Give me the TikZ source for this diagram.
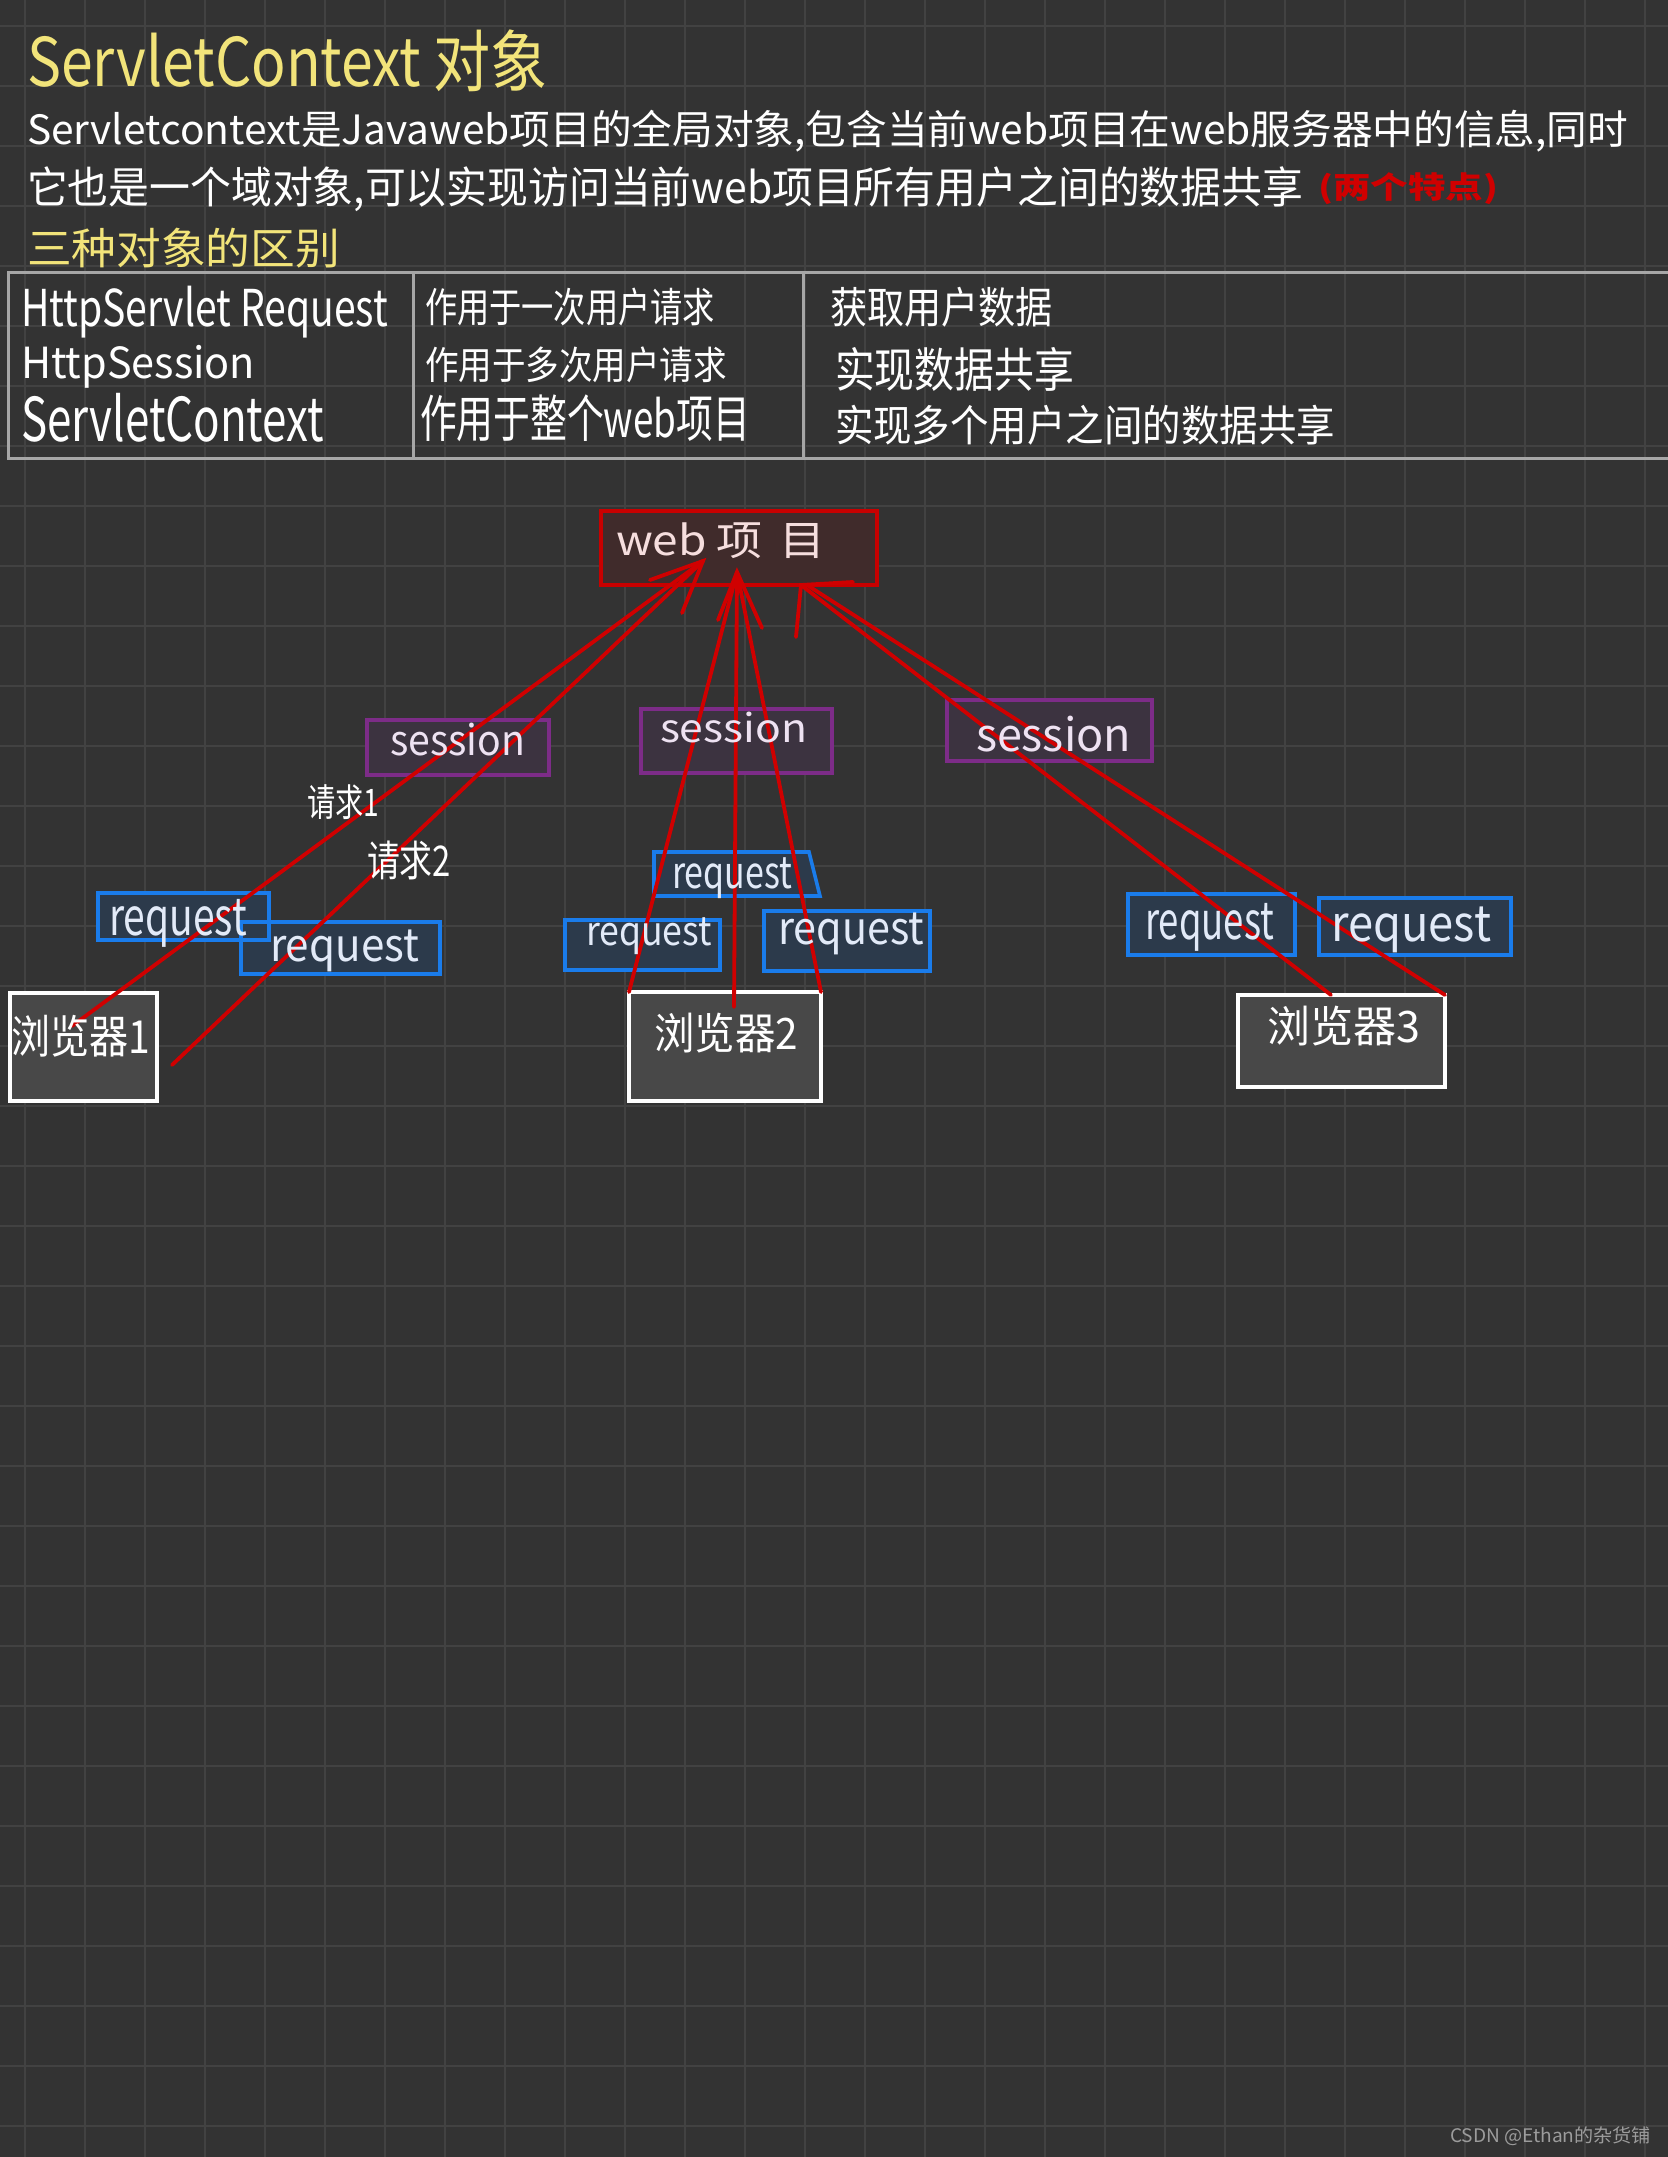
\documentclass[tikz,border=0pt]{standalone}
\usepackage{fontspec}
\usepackage{graphicx}
\newfontfamily\cjk{Noto Sans CJK SC}
\newdimen\pxu \pxu=0.5pt
\newcommand\fitt[3]{\resizebox*{#1\pxu}{#2\pxu}{#3}}
\definecolor{bgc}{HTML}{333333}
\definecolor{gridc}{HTML}{424242}
\definecolor{tabc}{HTML}{A6A6A6}
\definecolor{yelc}{HTML}{F2E47A}
\definecolor{webred}{HTML}{C80000}
\definecolor{webfill}{HTML}{402B2B}
\definecolor{webtxt}{HTML}{F6DEDE}
\definecolor{purc}{HTML}{7D2C88}
\definecolor{purfill}{HTML}{3C3340}
\definecolor{sestxt}{HTML}{EEE2F2}
\definecolor{bluc}{HTML}{1A7CEB}
\definecolor{blufill}{HTML}{2C3A4B}
\definecolor{reqtxt}{HTML}{E2EAF8}
\definecolor{brwfill}{HTML}{484848}
\definecolor{linered}{HTML}{D00000}
\definecolor{notered}{HTML}{D00000}
\definecolor{wmc}{HTML}{9C9C9C}
\begin{document}
\begin{tikzpicture}[x=0.5pt,y=-0.5pt,
  every node/.style={inner sep=0pt,outer sep=0pt,font=\cjk},
  txt/.style={anchor=north west,text=white},
  gridline/.style={draw=gridc,line width=1.2pt},
  tabline/.style={draw=tabc,line width=1.5pt},
  webbox/.style={draw=webred,fill=webfill,line width=2pt},
  sesbox/.style={draw=purc,fill=purfill,line width=1.6pt},
  reqbox/.style={draw=bluc,fill=blufill,line width=1.8pt},
  brwbox/.style={draw=white,fill=brwfill,line width=2pt},
  redline/.style={draw=linered,line width=1.9pt,line cap=round}]
\newcommand\boxnode[6]{\node[#2,anchor=north west,minimum width={(#5-#3)*0.5pt},minimum height={(#6-#4)*0.5pt}] (#1) at (#3,#4) {};}
\useasboundingbox (0,0) rectangle (1668,2157);
\fill[bgc] (0,0) rectangle (1668,2157);
\foreach \i in {0,...,27} \draw[gridline] ({25+60*\i},0) -- ({25+60*\i},2157);
\foreach \j in {0,...,35} \draw[gridline] (0,{26+60*\j}) -- (1668,{26+60*\j});

% heading texts
\node[txt,text=yelc] (title) at (27,30) {\fitt{521}{62}{ServletContext 对象}};
\node[txt] (line1) at (27,110) {\fitt{1601}{42}{Servletcontext是Javaweb项目的全局对象,包含当前web项目在web服务器中的信息,同时}};
\node[txt] (line2) at (27,167) {\fitt{1276}{45}{它也是一个域对象,可以实现访问当前web项目所有用户之间的数据共享}};
\node[txt,text=notered] (note) at (1318,173) {\fitt{180}{32}{\bfseries (两个特点)}};
\node[txt,text=yelc] (sub) at (27,228) {\fitt{313}{40}{三种对象的区别}};

% table
\draw[tabline] (1668,272) -- (8,272) -- (8,458) -- (1668,458);
\draw[tabline] (413,272) -- (413,458);
\draw[tabline] (803,272) -- (803,458);
\node[txt] (c11) at (21,286) {\fitt{367}{52}{HttpServlet Request}};
\node[txt] (c21) at (21,345) {\fitt{234}{43}{HttpSession}};
\node[txt] (c31) at (21,393) {\fitt{303}{49}{ServletContext}};
\node[txt] (c12) at (425,288) {\fitt{290}{38}{作用于一次用户请求}};
\node[txt] (c22) at (425,347) {\fitt{302}{36}{作用于多次用户请求}};
\node[txt] (c32) at (420,395) {\fitt{330}{47}{作用于整个web项目}};
\node[txt] (c13) at (830,287) {\fitt{223}{40}{获取用户数据}};
\node[txt] (c23) at (835,347) {\fitt{239}{44}{实现数据共享}};
\node[txt] (c33) at (835,405) {\fitt{500}{40}{实现多个用户之间的数据共享}};

% boxes
\boxnode{web}{webbox}{601}{511}{877}{585}
\boxnode{s1}{sesbox}{367}{720}{549}{775}
\boxnode{s2}{sesbox}{641}{709}{832}{773}
\boxnode{s3}{sesbox}{947}{700}{1152}{761}
\boxnode{r1a}{reqbox}{98}{893}{269}{940}
\boxnode{r1b}{reqbox}{241}{922}{440}{974}
\draw[draw=bluc,line width=1.8pt] (r1a.north west) rectangle (r1a.south east);
\filldraw[reqbox] (654,852) -- (809,852) -- (820,896) -- (654,896) -- cycle;
\boxnode{r2l}{reqbox}{565}{920}{720}{970}
\boxnode{r2r}{reqbox}{764}{911}{930}{971}
\boxnode{r3a}{reqbox}{1128}{894}{1295}{955}
\boxnode{r3b}{reqbox}{1319}{898}{1511}{955}
\boxnode{b1}{brwbox}{10}{993}{157}{1101}
\boxnode{b2}{brwbox}{629}{992}{821}{1101}
\boxnode{b3}{brwbox}{1238}{995}{1445}{1087}

% connectors
\coordinate (tipL) at (703,561);
\coordinate (armL1) at (650,580);
\coordinate (armL2) at (682,613);
\coordinate (l1s) at (72,1026);
\coordinate (l2s) at (172,1065);
\coordinate (tipM) at (737,572);
\coordinate (armM1) at (718,620);
\coordinate (armM2) at (762,628);
\coordinate (m2s) at (734,1007);
\coordinate (tipR) at (801,585);
\coordinate (armR1) at (853,582);
\coordinate (armR2) at (796,637);
\coordinate (r3s) at (1331,995);
\draw[redline] (l1s) -- (tipL);
\draw[redline] (l2s) -- (tipL);
\draw[redline] (armL1) -- (tipL) -- (armL2);
\draw[redline] (b2.north west) -- (tipM);
\draw[redline] (m2s) -- (tipM);
\draw[redline] (b2.north east) -- (tipM);
\draw[redline] (armM1) -- (tipM) -- (armM2);
\draw[redline] (r3s) -- (tipR);
\draw[redline] (b3.north east) -- ([xshift=3pt]tipR);
\draw[redline] (armR1) -- (tipR) -- (armR2);

% box texts
\node[txt,text=webtxt] (tweb) at (616,523) {\fitt{209}{36}{web 项\hspace{0.35em}目}};
\node[txt,text=sestxt] (ts1) at (390,723) {\fitt{135}{33}{session}};
\node[txt,text=sestxt] (ts2) at (660,712) {\fitt{147}{31}{session}};
\node[txt,text=sestxt] (ts3) at (976,716) {\fitt{155}{36}{session}};
\node[txt,text=reqtxt] (tr1a) at (109,899) {\fitt{138}{48}{request}};
\node[txt,text=reqtxt] (tr1b) at (270,930) {\fitt{149}{42}{request}};
\node[txt,text=reqtxt] (tr2t) at (672,858) {\fitt{120}{41}{request}};
\node[txt,text=reqtxt] (tr2l) at (586,918) {\fitt{126}{37}{request}};
\node[txt,text=reqtxt] (tr2r) at (778,913) {\fitt{146}{42}{request}};
\node[txt,text=reqtxt] (tr3a) at (1145,903) {\fitt{129}{48}{request}};
\node[txt,text=reqtxt] (tr3b) at (1331,907) {\fitt{160}{46}{request}};
\node[txt] (tb1) at (11,1015) {\fitt{139}{42}{浏览器1}};
\node[txt] (tb2) at (654,1013) {\fitt{144}{40}{浏览器2}};
\node[txt] (tb3) at (1267,1006) {\fitt{153}{40}{浏览器3}};
\node[txt] (q1) at (307,785) {\fitt{72}{35}{请求1}};
\node[txt] (q2) at (367,841) {\fitt{84}{39}{请求2}};

% watermark
\node[txt,text=wmc] (wm) at (1450,2127) {\fitt{201}{19}{CSDN @Ethan的杂货铺}};
\end{tikzpicture}
\end{document}
